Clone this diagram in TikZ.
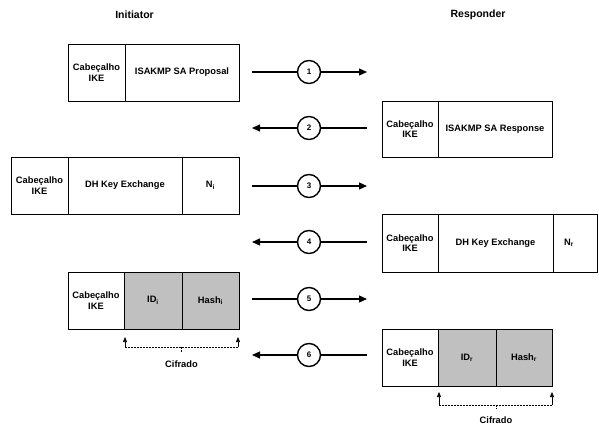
\documentclass[tikz,border=0pt]{standalone}
\usepackage{fontspec}
\setmainfont{Liberation Sans}
\usetikzlibrary{arrows.meta}
\definecolor{cellgray}{RGB}{192,192,192}
\tikzset{
  cell/.style={draw, line width=0.9pt, inner sep=0pt, align=center,
    font=\fontsize{9.3}{10.3}\selectfont\bfseries},
  num/.style={draw, circle, line width=1.4pt, minimum size=23pt, inner sep=0pt,
    font=\fontsize{8}{9}\selectfont\bfseries, fill=white},
  msg/.style={line width=1.2pt},
  msgtip/.style={msg, -{Triangle[length=8pt,width=7pt]}},
  head/.style={font=\fontsize{10.5}{12}\selectfont\bfseries},
  enc/.style={dashed, line width=0.6pt, dash pattern=on 2pt off 1pt},
  encup/.style={line width=0.6pt, -{Triangle[length=5pt,width=4pt]}},
  lbl/.style={font=\fontsize{9.3}{10.5}\selectfont\bfseries}
}
\newcommand{\cellat}[6]{% name, x1, x2, yc, h, text
  \node[cell, minimum width={(#3-#2)*1pt}, minimum height=#5pt] (#1) at ({(#2+#3)/2},#4) {#6};}
\begin{document}
\begin{tikzpicture}[x=1pt,y=-1pt]
\useasboundingbox (0,0) rectangle (599,425);
% headings
\node[head] (init) at (134.5,15) {Initiator};
\node[head] (resp) at (478,15) {Responder};
% Row 1
\cellat{h1}{68}{125}{72.5}{57}{Cabeçalho\\IKE}
\cellat{p1}{125}{239}{72.5}{57}{ISAKMP SA Proposal}
% Row 2
\cellat{h2}{382}{438}{129}{56}{Cabeçalho\\IKE}
\cellat{p2}{438}{552}{129}{56}{ISAKMP SA Response}
% Row 3
\cellat{h3}{11}{68}{185.5}{57}{Cabeçalho\\IKE}
\cellat{k3}{68}{182}{185.5}{57}{DH Key Exchange}
\cellat{n3}{182}{239}{185.5}{57}{N\textsubscript{i}}
% Row 4
\cellat{h4}{382}{438}{243}{58}{Cabeçalho\\IKE}
\cellat{k4}{438}{553}{243}{58}{DH Key Exchange}
\cellat{n4}{553}{597}{243}{58}{\hspace*{-12pt}N\textsubscript{r}}
% Row 5
\node[cell, fill=cellgray, minimum width=58pt, minimum height=57pt] (i5) at (153,300.5) {ID\textsubscript{i}};
\node[cell, fill=cellgray, minimum width=57pt, minimum height=57pt] (s5) at (210.5,300.5) {Hash\textsubscript{i}};
\cellat{h5}{68}{124}{300.5}{57}{Cabeçalho\\IKE}
% Row 6
\node[cell, fill=cellgray, minimum width=58pt, minimum height=57pt] (i6) at (467,357.5) {ID\textsubscript{r}};
\node[cell, fill=cellgray, minimum width=56pt, minimum height=57pt] (s6) at (524,357.5) {Hash\textsubscript{r}};
\cellat{h6}{382}{438}{357.5}{57}{Cabeçalho\\IKE}
% message arrows
\foreach \n/\y in {1/72,2/128,3/186,4/242,5/299,6/355}{
  \coordinate (L\n) at (252,\y);
  \coordinate (R\n) at (367,\y);
  \node[num] (c\n) at (309,\y) {\n};
}
\foreach \n in {1,3,5}{
  \draw[msg] (L\n) -- (c\n);
  \draw[msgtip] (c\n) -- (R\n);
}
\foreach \n in {2,4,6}{
  \draw[msg] (R\n) -- (c\n);
  \draw[msgtip] (c\n) -- (L\n);
}
% encrypted brackets row 5
\coordinate (a5) at (125,347);
\coordinate (b5) at (238,347);
\coordinate (a5t) at (125,337);
\coordinate (b5t) at (238,337);
\coordinate (m5) at (181.5,347);
\coordinate (m5b) at (181.5,352);
\draw[encup] (a5) -- (a5t);
\draw[encup] (b5) -- (b5t);
\draw[enc] (a5) -- (b5);
\draw[enc] (m5) -- (m5b);
\node[lbl] (cf5) at (181.5,364) {Cifrado};
% encrypted brackets row 6
\coordinate (a6) at (439,405);
\coordinate (b6) at (552,405);
\coordinate (a6t) at (439,392);
\coordinate (b6t) at (552,392);
\coordinate (m6) at (496,405);
\coordinate (m6b) at (496,409);
\draw[encup] (a6) -- (a6t);
\draw[encup] (b6) -- (b6t);
\draw[enc] (a6) -- (b6);
\draw[enc] (m6) -- (m6b);
\node[lbl] (cf6) at (496,420) {Cifrado};
\end{tikzpicture}
\end{document}
